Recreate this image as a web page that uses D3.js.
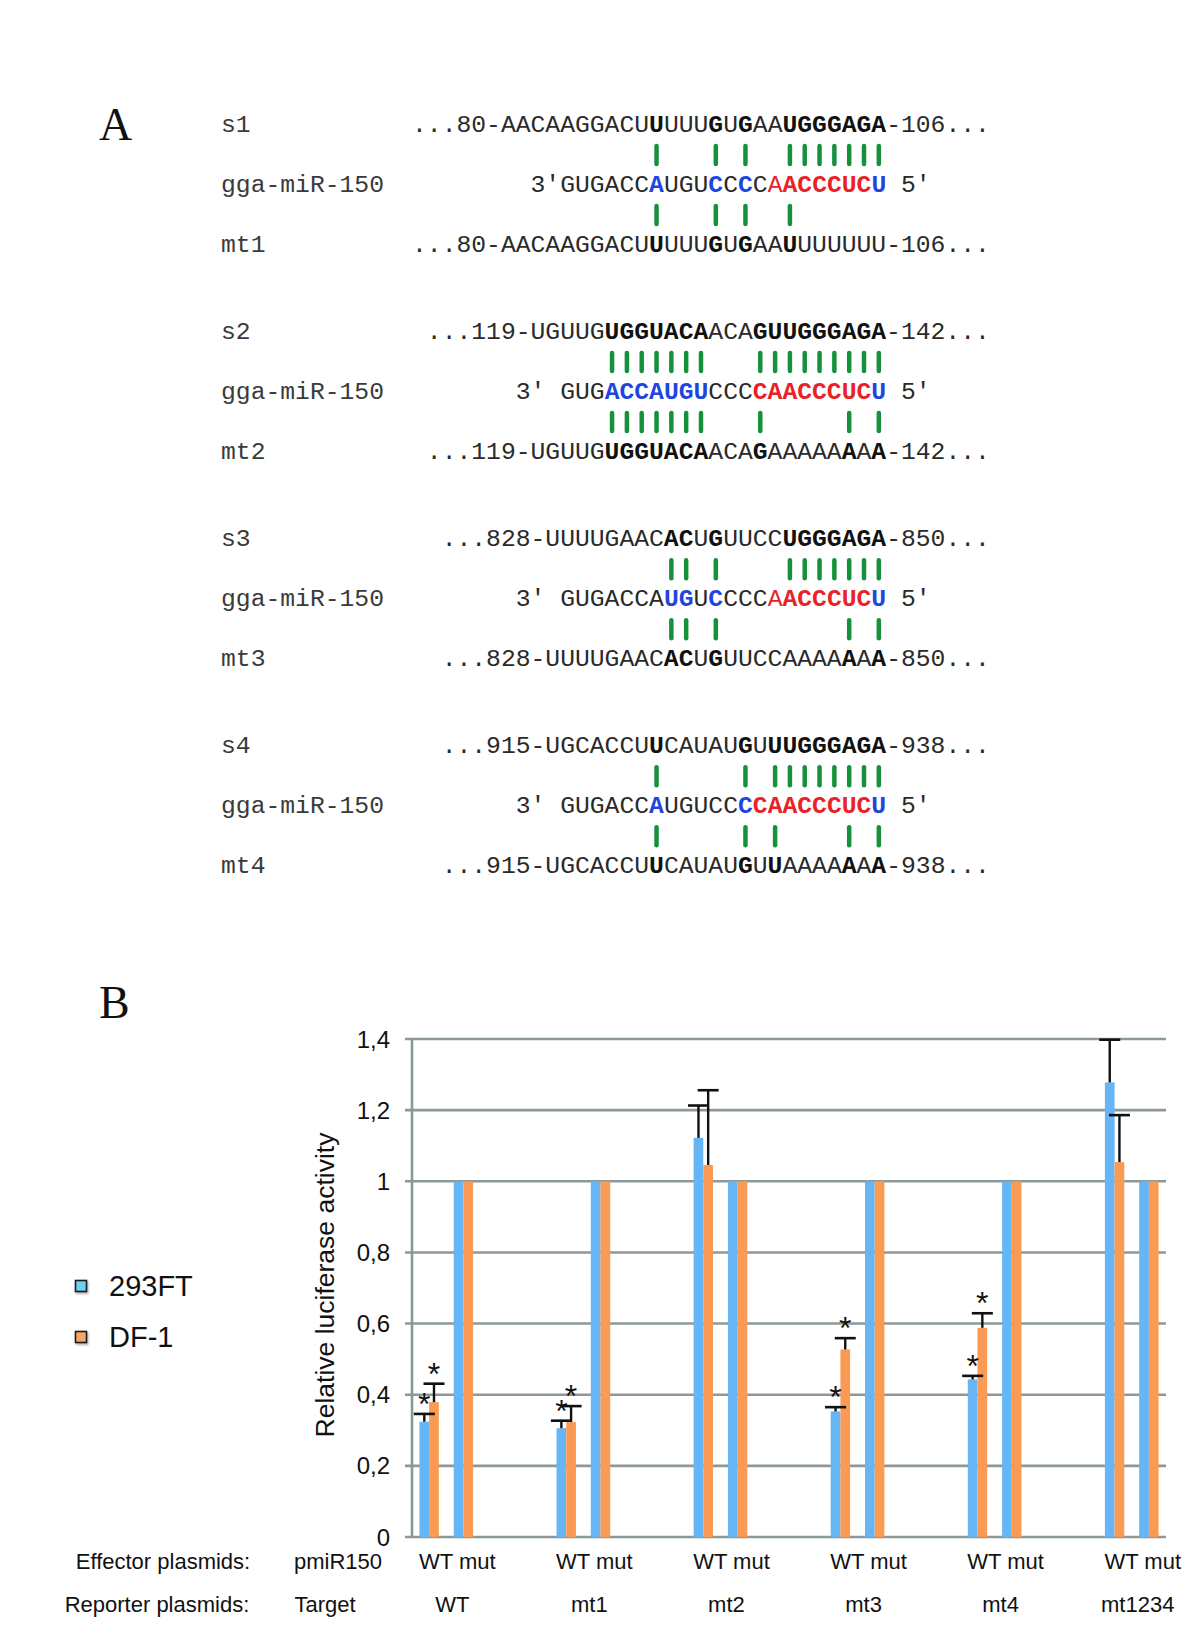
<!DOCTYPE html>
<html>
<head>
<meta charset="utf-8">
<script src="https://cdn.jsdelivr.net/npm/d3@7"></script>
<style>
html,body{margin:0;padding:0;background:#fff;}
svg{display:block;}
</style>
</head>
<body>
<svg id="fig" width="1200" height="1629"></svg>
<script>
// ---------------- Panel A data ----------------
// markup: [..] bold black, {..} bold blue, <..> bold red, (..) normal red
const siteLabels = ["s1", "s2", "s3", "s4"];
const mirLabel = "gga-miR-150";
const mutLabels = ["mt1", "mt2", "mt3", "mt4"];
const siteSeqs = [
  "...80-AACAAGGACU[U]UUU[G]U[G]AA[UGGGAGA]-106...",
  "...119-UGUUG[UGGUACA]ACA[GUUGGGAGA]-142...",
  "...828-UUUUGAAC[AC]U[G]UUCC[UGGGAGA]-850...",
  "...915-UGCACCU[U]CAUAU[G]U[UUGGGAGA]-938..."
];
const siteStartCols = [0, 1, 2, 2];
const mirSeqs = [
  "3′GUGACC{A}UGU{C}C{C}C(A)<ACCCUC>{U} 5′",
  "3′ GUG{ACCAUGU}CCC<CAACCCUC>{U} 5′",
  "3′ GUGACCA{UG}U{C}CCC(A)<ACCCUC>{U} 5′",
  "3′ GUGACC{A}UGUCC{C}<CAACCCUC>{U} 5′"
];
const mirStartCols = [8, 7, 7, 7];
const mutSeqs = [
  "...80-AACAAGGACU[U]UUU[G]U[G]AA[U]UUUUUU-106...",
  "...119-UGUUG[UGGUACA]ACA[G]AAAAA[A]A[A]-142...",
  "...828-UUUUGAAC[AC]U[G]UUCCAAAA[A]A[A]-850...",
  "...915-UGCACCU[U]CAUAU[G]U[U]AAAA[A]A[A]-938..."
];
const mutStartCols = [0, 1, 2, 2];
const sitePairCols = [
  [16, 20, 22, 25, 26, 27, 28, 29, 30, 31],
  [13, 14, 15, 16, 17, 18, 19, 23, 24, 25, 26, 27, 28, 29, 30, 31],
  [17, 18, 20, 25, 26, 27, 28, 29, 30, 31],
  [16, 22, 24, 25, 26, 27, 28, 29, 30, 31]
];
const mutPairCols = [
  [16, 20, 22, 25],
  [13, 14, 15, 16, 17, 18, 19, 23, 29, 31],
  [17, 18, 20, 29, 31],
  [16, 22, 24, 29, 31]
];

// ---------------- Panel B data ----------------
const reporters = ["WT", "mt1", "mt2", "mt3", "mt4", "mt1234"];
const effectors = ["WT", "mut"];
const seriesNames = ["293FT", "DF-1"];
const val293FT_WT = [0.324, 0.306, 1.122, 0.353, 0.443, 1.278];
const valDF1_WT   = [0.379, 0.323, 1.046, 0.527, 0.588, 1.054];
const val293FT_mut = [1, 1, 1, 1, 1, 1];
const valDF1_mut   = [1, 1, 1, 1, 1, 1];
const err293FT_WT = [0.022, 0.021, 0.091, 0.012, 0.010, 0.120];
const errDF1_WT   = [0.052, 0.045, 0.210, 0.032, 0.041, 0.132];
const sig293FT_WT = [true, true, false, true, true, false];
const sigDF1_WT   = [true, true, false, true, true, false];
const yTicks = [0, 0.2, 0.4, 0.6, 0.8, 1, 1.2, 1.4];
const yTickLabels = ["0", "0,2", "0,4", "0,6", "0,8", "1", "1,2", "1,4"];
const effectorRowTitle = "Effector plasmids:";
const reporterRowTitle = "Reporter plasmids:";
const effectorHead = "pmiR150";
const reporterHead = "Target";
const yTitle = "Relative luciferase activity";

// ---------------- drawing ----------------
const svg = d3.select("#fig");
const MONO = "'Liberation Mono', 'Courier New', monospace";
const SANS = "'Liberation Sans', Arial, sans-serif";
const SERIF = "'Liberation Serif', 'Times New Roman', serif";
const colors = {n: "#2a2a2a", b: "#111", B: "#1f45e0", R: "#ea2227", r: "#ea2227"};
const greenLine = "#16913b";

svg.append("text").attr("x", 99).attr("y", 140)
  .attr("font-family", SERIF).attr("font-size", 46).attr("fill", "#111").text("A");
svg.append("text").attr("x", 99).attr("y", 1018)
  .attr("font-family", SERIF).attr("font-size", 46).attr("fill", "#111").text("B");

const cw = 14.82;
const colX = d3.scaleLinear().domain([0, 1]).range([412, 412 + cw]);
const monoSize = cw / 0.6;

function parseSeq(s) {
  const segs = [];
  let cur = "", style = "n";
  const open = {"[": "b", "{": "B", "<": "R", "(": "r"};
  const close = {"]": 1, "}": 1, ">": 1, ")": 1};
  for (const ch of s) {
    if (open[ch]) { if (cur) segs.push([cur, style]); cur = ""; style = open[ch]; }
    else if (close[ch]) { if (cur) segs.push([cur, style]); cur = ""; style = "n"; }
    else cur += ch;
  }
  if (cur) segs.push([cur, style]);
  return segs;
}

function drawSeq(g, str, startCol, y) {
  const t = g.append("text").attr("x", colX(startCol)).attr("y", y)
    .attr("font-family", MONO).attr("font-size", monoSize)
    .attr("xml:space", "preserve").style("white-space", "pre");
  parseSeq(str).forEach(([txt, st]) => {
    t.append("tspan").text(txt)
      .attr("fill", colors[st])
      .attr("font-weight", (st === "b" || st === "B" || st === "R") ? "bold" : "normal");
  });
}

function drawLabel(g, txt, y) {
  g.append("text").attr("x", 221).attr("y", y)
    .attr("font-family", MONO).attr("font-size", monoSize).attr("fill", "#3a3a3a").text(txt);
}

const blockStep = 207.1;
siteLabels.forEach((lab, k) => {
  const g = svg.append("g");
  const b0 = 132 + k * blockStep;
  const b1 = b0 + 60, b2 = b0 + 120;
  drawLabel(g, lab, b0);
  drawLabel(g, mirLabel, b1);
  drawLabel(g, mutLabels[k], b2);
  drawSeq(g, siteSeqs[k], siteStartCols[k], b0);
  drawSeq(g, mirSeqs[k], mirStartCols[k], b1);
  drawSeq(g, mutSeqs[k], mutStartCols[k], b2);
  g.selectAll("line.up").data(sitePairCols[k]).join("line")
    .attr("x1", d => colX(d + 0.5)).attr("x2", d => colX(d + 0.5))
    .attr("y1", b0 + 14).attr("y2", b0 + 32)
    .attr("stroke", greenLine).attr("stroke-width", 4.5).attr("stroke-linecap", "round");
  g.selectAll("line.dn").data(mutPairCols[k]).join("line")
    .attr("x1", d => colX(d + 0.5)).attr("x2", d => colX(d + 0.5))
    .attr("y1", b1 + 14).attr("y2", b1 + 32)
    .attr("stroke", greenLine).attr("stroke-width", 4.5).attr("stroke-linecap", "round");
});

// ---------------- Panel B chart ----------------
const X0 = 412, X1 = 1166;
const nSlots = reporters.length * 4 - 2;
const slotIdx = d3.range(nSlots);
const pIn = 0.434;
const xSlot = d3.scaleBand().domain(slotIdx).range([X0, X1]).paddingInner(pIn).paddingOuter(pIn / 2);
const xSer = d3.scaleBand().domain(seriesNames).range([0, xSlot.bandwidth()]);
const y = d3.scaleLinear().domain([0, 1.4]).range([1537, 1039]);
const gridColor = "#8b9a98";

const chart = svg.append("g");
chart.selectAll("line.grid").data(yTicks).join("line")
  .attr("x1", X0 - 7).attr("x2", X1)
  .attr("y1", d => y(d)).attr("y2", d => y(d))
  .attr("stroke", gridColor).attr("stroke-width", 2.6);
chart.selectAll("text.tick").data(yTicks).join("text")
  .attr("x", 390).attr("y", d => y(d) + 8.5)
  .attr("text-anchor", "end").attr("font-family", SANS).attr("font-size", 24).attr("fill", "#111")
  .text((d, i) => yTickLabels[i]);
chart.append("line").attr("x1", X0).attr("x2", X0).attr("y1", y(1.4)).attr("y2", y(0))
  .attr("stroke", gridColor).attr("stroke-width", 2.6);
chart.append("text").attr("transform", `translate(334,1285) rotate(-90)`)
  .attr("text-anchor", "middle").attr("font-family", SANS).attr("font-size", 26.5).attr("fill", "#111")
  .text(yTitle);

const barColors = {"293FT": "#66b6f6", "DF-1": "#fb9a52"};
const bars = [];
reporters.forEach((r, gi) => {
  effectors.forEach((e, ei) => {
    const slot = gi * 4 + ei;
    const vals = ei === 0 ? [val293FT_WT[gi], valDF1_WT[gi]] : [val293FT_mut[gi], valDF1_mut[gi]];
    const errs = ei === 0 ? [err293FT_WT[gi], errDF1_WT[gi]] : [null, null];
    const sigs = ei === 0 ? [sig293FT_WT[gi], sigDF1_WT[gi]] : [false, false];
    seriesNames.forEach((s, si) => {
      bars.push({slot, series: s, value: vals[si], err: errs[si], sig: sigs[si]});
    });
  });
});

chart.selectAll("rect.bar").data(bars).join("rect")
  .attr("x", d => xSlot(d.slot) + xSer(d.series))
  .attr("width", xSer.bandwidth())
  .attr("y", d => y(d.value))
  .attr("height", d => y(0) - y(d.value))
  .attr("fill", d => barColors[d.series]);

const errBars = bars.filter(d => d.err != null);
const cx = d => xSlot(d.slot) + xSer(d.series) + xSer.bandwidth() / 2;
chart.selectAll("line.err").data(errBars).join("line")
  .attr("x1", cx).attr("x2", cx)
  .attr("y1", d => y(d.value)).attr("y2", d => y(d.value + d.err))
  .attr("stroke", "#111").attr("stroke-width", 2.4);
chart.selectAll("line.cap").data(errBars).join("line")
  .attr("x1", d => cx(d) - 10.5).attr("x2", d => cx(d) + 10.5)
  .attr("y1", d => y(d.value + d.err)).attr("y2", d => y(d.value + d.err))
  .attr("stroke", "#111").attr("stroke-width", 2.6);
chart.selectAll("text.star").data(errBars.filter(d => d.sig)).join("text")
  .attr("x", cx).attr("y", d => y(d.value + d.err) + 1)
  .attr("text-anchor", "middle").attr("font-family", SANS).attr("font-size", 32).attr("fill", "#111")
  .text("*");

const groupCenter = gi => (xSlot(gi * 4) + xSlot(gi * 4 + 1) + xSlot.bandwidth()) / 2;
const effY = 1569, repY = 1612;
chart.append("text").attr("x", 163).attr("y", effY).attr("text-anchor", "middle")
  .attr("font-family", SANS).attr("font-size", 22).attr("fill", "#111").text(effectorRowTitle);
chart.append("text").attr("x", 157).attr("y", repY).attr("text-anchor", "middle")
  .attr("font-family", SANS).attr("font-size", 22).attr("fill", "#111").text(reporterRowTitle);
chart.append("text").attr("x", 338).attr("y", effY).attr("text-anchor", "middle")
  .attr("font-family", SANS).attr("font-size", 22).attr("fill", "#111").text(effectorHead);
chart.append("text").attr("x", 325).attr("y", repY).attr("text-anchor", "middle")
  .attr("font-family", SANS).attr("font-size", 22).attr("fill", "#111").text(reporterHead);
chart.selectAll("text.eff").data(reporters).join("text")
  .attr("x", (d, i) => groupCenter(i) + 11).attr("y", effY).attr("text-anchor", "middle")
  .attr("font-family", SANS).attr("font-size", 22).attr("fill", "#111")
  .text(effectors.join(" "));
chart.selectAll("text.rep").data(reporters).join("text")
  .attr("x", (d, i) => groupCenter(i) + 6).attr("y", repY).attr("text-anchor", "middle")
  .attr("font-family", SANS).attr("font-size", 22).attr("fill", "#111")
  .text(d => d);

const defs = svg.append("defs");
const f = defs.append("filter").attr("id", "sh").attr("x", "-50%").attr("y", "-50%").attr("width", "200%").attr("height", "200%");
f.append("feDropShadow").attr("dx", 1).attr("dy", 1.5).attr("stdDeviation", 1.2).attr("flood-color", "#000").attr("flood-opacity", 0.35);
const legendColors = {"293FT": "#70d0f2", "DF-1": "#f9a765"};
const leg = svg.append("g");
seriesNames.forEach((s, i) => {
  const cy = 1286 + i * 51;
  leg.append("rect").attr("x", 75.5).attr("y", cy - 5.5).attr("width", 11).attr("height", 11)
    .attr("fill", legendColors[s]).attr("stroke", "#1c1c1c").attr("stroke-width", 1.6)
    .attr("filter", "url(#sh)");
  leg.append("text").attr("x", 109).attr("y", cy + 10)
    .attr("font-family", SANS).attr("font-size", 29).attr("fill", "#111").text(s);
});
</script>
</body>
</html>
